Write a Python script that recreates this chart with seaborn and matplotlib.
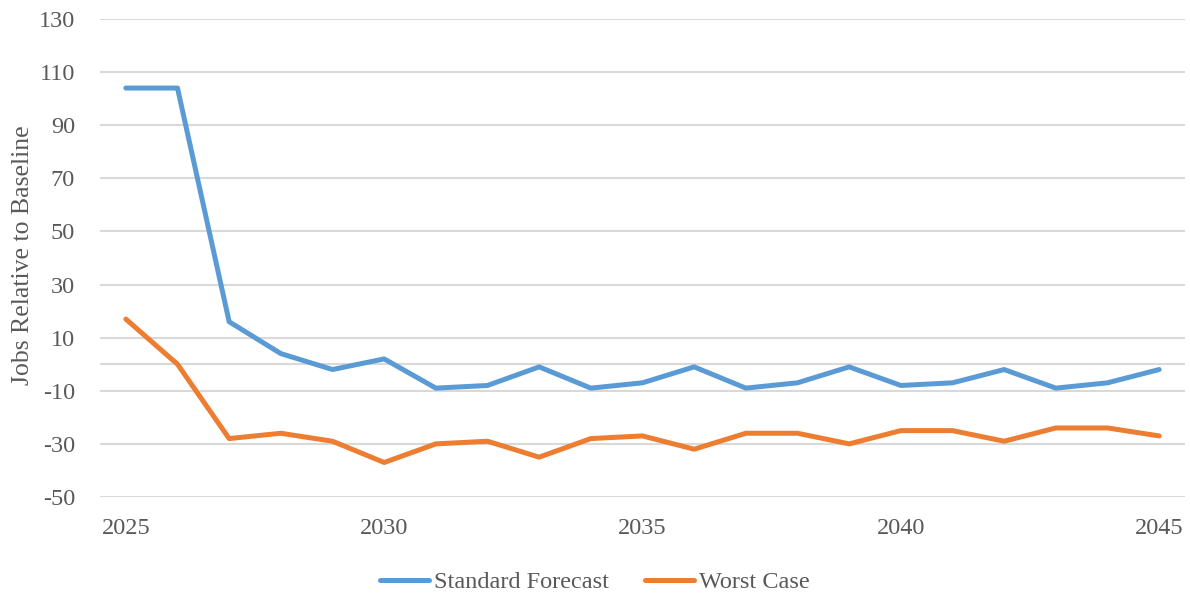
import matplotlib
matplotlib.use("Agg")
import matplotlib.pyplot as plt
import seaborn as sns
import pandas as pd

years = list(range(2025, 2046))
standard_forecast = [104, 104, 16, 4, -2, 2, -9, -8, -1, -9, -7, -1, -9, -7, -1, -8, -7, -2, -9, -7, -2]
worst_case = [17, 0, -28, -26, -29, -37, -30, -29, -35, -28, -27, -32, -26, -26, -30, -25, -25, -29, -24, -24, -27]
series_names = ["Standard Forecast", "Worst Case"]
series_colors = ["#5B9BD5", "#ED7D31"]
y_ticks = list(range(-50, 131, 20))
x_ticks = [2025, 2030, 2035, 2040, 2045]

df = pd.DataFrame({
    "Year": years * 2,
    "Jobs": standard_forecast + worst_case,
    "Series": [series_names[0]] * len(years) + [series_names[1]] * len(years),
})

sns.set_theme(style="white")
plt.rcParams["font.family"] = ["Liberation Serif", "DejaVu Serif"]
text_color = "#595959"
grid_color = "#D9D9D9"

fig = plt.figure(figsize=(11.9, 5.94), dpi=100)
ax = fig.add_axes([100 / 1190, 1 - 497 / 594, 1085 / 1190, 478 / 594])

sns.lineplot(
    data=df, x="Year", y="Jobs", hue="Series",
    palette=dict(zip(series_names, series_colors)),
    linewidth=3.6, ax=ax, legend=True,
)
for line in ax.get_lines():
    line.set_solid_capstyle("round")
    line.set_solid_joinstyle("round")

ax.set_xlim(2024.5, 2045.5)
ax.set_ylim(-50, 130)
ax.set_yticks(y_ticks)
ax.set_xticks(x_ticks)
ax.set_yticklabels([str(v) for v in y_ticks])
ax.set_xticklabels([str(v) for v in x_ticks])

# horizontal gridlines plus the zero axis line
for v in y_ticks:
    ax.axhline(v, color=grid_color, linewidth=1.5, zorder=0)
ax.axhline(0, color=grid_color, linewidth=1.5, zorder=0)

for s in ax.spines.values():
    s.set_visible(False)
ax.tick_params(axis="both", length=0, labelsize=17.5, colors=text_color)
ax.tick_params(axis="y", pad=18)
ax.tick_params(axis="x", pad=15)

ax.set_xlabel("")
ax.set_ylabel("Jobs Relative to Baseline", fontsize=18.5, color=text_color)
ax.yaxis.set_label_coords(34 / 1190, 1 - 255.5 / 594, transform=fig.transFigure)

handles, labels = ax.get_legend_handles_labels()
for h in handles:
    h.set_linewidth(3.6)
    h.set_solid_capstyle("round")
ax.legend(
    handles, labels, loc="center", bbox_to_anchor=(0.5, 1 - 582 / 594), bbox_transform=fig.transFigure,
    ncol=2, frameon=False, fontsize=17.5, handlelength=2.0, handletextpad=0.2, columnspacing=1.5,
    labelcolor=text_color,
)

fig.savefig("out.png", dpi=100)
